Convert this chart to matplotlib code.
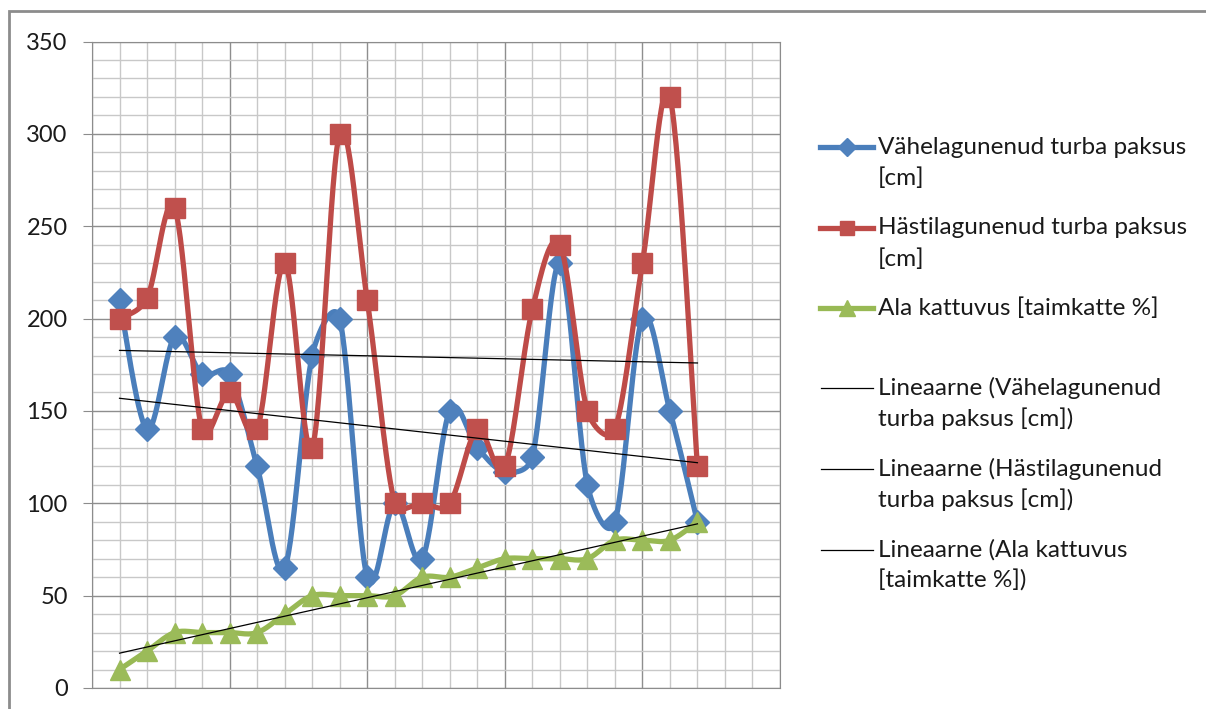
"""Turba paksus ja taimkatte kattuvus proovipunktides, silutud jooned ja lineaarsed trendid"""

import numpy as np
import matplotlib
matplotlib.use('Agg')
import matplotlib.pyplot as plt
from matplotlib.lines import Line2D
from matplotlib.patches import Rectangle
from matplotlib.ticker import MultipleLocator

plt.rcParams['font.family'] = ['Lato', 'DejaVu Sans']

## andmed (proovipunktid 1..22)
punkt = np.arange(1, 23)
vahelagunenud = [210, 140, 190, 170, 170, 120, 65, 180, 200, 60, 100,
                 70, 150, 130, 117, 125, 230, 110, 90, 200, 150, 90]
hastilagunenud = [200, 211, 260, 140, 160, 140, 230, 130, 300, 210, 100,
                  100, 100, 140, 120, 205, 240, 150, 140, 230, 320, 120]
kattuvus = [10, 20, 30, 30, 30, 30, 40, 50, 50, 50, 50,
            60, 60, 65, 70, 70, 70, 70, 80, 80, 80, 90]

nimed = ['Vähelagunenud turba paksus\n[cm]',
         'Hästilagunenud turba paksus\n[cm]',
         'Ala kattuvus [taimkatte %]']
trend_nimed = ['Lineaarne (Vähelagunenud\nturba paksus [cm])',
               'Lineaarne (Hästilagunenud\nturba paksus [cm])',
               'Lineaarne (Ala kattuvus\n[taimkatte %])']

joon_varv = ['#4A7EBB', '#BE4B48', '#98B954']
marker_varv = ['#4F81BD', '#C0504D', '#9BBB59']
markerid = ['D', 's', '^']
marker_suurus = [12.5, 14, 14.5]

W, H = 1206, 709
# teljeala suurus pikslites (x: 0..25, y: 0..350)
AX_W, AX_H = 688, 646.5


def silu(x, y, n=30):
    """Excel-laadne silumine: Bezier, kontrollõlad kuni 1/6 naabrite
    vahekaugusest, kuid mitte üle poole lõigu pikkusest (ekraanipikslites)"""
    kx, ky = AX_W / 25, AX_H / 350
    x = np.asarray(x, float) * kx
    y = np.asarray(y, float) * ky
    P = np.column_stack([np.r_[x[0], x, x[-1]], np.r_[y[0], y, y[-1]]])
    t = np.linspace(0, 1, n)[:, None]
    out = []
    for i in range(1, len(x)):
        p0, p1, p2, p3 = P[i - 1], P[i], P[i + 1], P[i + 2]
        d12 = np.hypot(*(p2 - p1))
        d02 = np.hypot(*(p2 - p0))
        d13 = np.hypot(*(p3 - p1))
        f = min(1 / 6, d12 / (2 * d02)) if d02 > 0 else 0
        g = min(1 / 6, d12 / (2 * d13)) if d13 > 0 else 0
        c1 = p1 + (p2 - p0) * f
        c2 = p2 - (p3 - p1) * g
        b = ((1 - t) ** 3) * p1 + 3 * ((1 - t) ** 2) * t * c1 \
            + 3 * (1 - t) * t ** 2 * c2 + t ** 3 * p2
        out.append(b if i == 1 else b[1:])
    b = np.vstack(out)
    return b[:, 0] / kx, b[:, 1] / ky


fig = plt.figure(figsize=(W / 100, H / 100), dpi=100)
ax = fig.add_axes([92 / W, (H - 688) / H, AX_W / W, AX_H / H])

## diagrammi raam
fig.add_artist(Rectangle((9 / W, -0.1), 1.2, (H - 11) / H + 0.1,
                         transform=fig.transFigure, fill=False,
                         edgecolor='#8C8C8C', linewidth=2.0))

## ruudustik
ax.set_xlim(0, 25)
ax.set_ylim(0, 350)
ax.xaxis.set_major_locator(MultipleLocator(5))
ax.xaxis.set_minor_locator(MultipleLocator(1))
ax.yaxis.set_major_locator(MultipleLocator(50))
ax.yaxis.set_minor_locator(MultipleLocator(10))
ax.grid(which='major', color='#8E8E8E', linewidth=1.0, zorder=0)
ax.grid(which='minor', color='#C8C8C8', linewidth=1.0, zorder=0)
ax.set_axisbelow(True)
ax.tick_params(axis='x', which='both', bottom=False, labelbottom=False)
ax.tick_params(axis='y', which='minor', left=False)
ax.tick_params(axis='y', which='major', length=6.5, width=0.8,
               color='#8C8C8C', pad=11, labelsize=17, labelcolor='#1A1A1A')
for s in ax.spines.values():
    s.set_color('#8C8C8C')
    s.set_linewidth(0.8)

## seeriad (iga seeria joon ja markerid koos, järjekorras)
seeriad = [vahelagunenud, hastilagunenud, kattuvus]
for k, y in enumerate(seeriad):
    sx, sy = silu(punkt, y)
    ax.plot(sx, sy, color=joon_varv[k], linewidth=3.8,
            solid_capstyle='round', zorder=3 + 2 * k)
    ax.plot(punkt, y, linestyle='none', marker=markerid[k],
            markersize=marker_suurus[k], color=marker_varv[k],
            markeredgecolor=marker_varv[k], zorder=4 + 2 * k)

## lineaarsed trendid
for y in seeriad:
    a, b = np.polyfit(punkt, y, 1)
    xx = np.array([punkt[0], punkt[-1]])
    ax.plot(xx, a * xx + b, color='black', linewidth=0.9, zorder=10)

## legend
leg_y = [147, 228, 308, 388, 469, 550]
rea_vahe = 31
for k, (silt, yy) in enumerate(zip(nimed + trend_nimed, leg_y)):
    yf = 1 - yy / H
    if k < 3:
        fig.add_artist(Line2D([820 / W, 873 / W], [yf, yf],
                              color=joon_varv[k], linewidth=3.8,
                              transform=fig.transFigure))
        fig.add_artist(Line2D([846.5 / W], [yf], marker=markerid[k],
                              markersize=marker_suurus[k] * 0.75,
                              color=marker_varv[k], linestyle='none',
                              transform=fig.transFigure))
    else:
        fig.add_artist(Line2D([821 / W, 873 / W], [yf, yf],
                              color='black', linewidth=0.9,
                              transform=fig.transFigure))
    for r, rida in enumerate(silt.split('\n')):
        fig.text(878 / W, 1 - (yy + r * rea_vahe) / H, rida,
                 fontsize=17.5, color='#1A1A1A', va='center', ha='left')

fig.savefig('out.png', dpi=100, facecolor='white')
